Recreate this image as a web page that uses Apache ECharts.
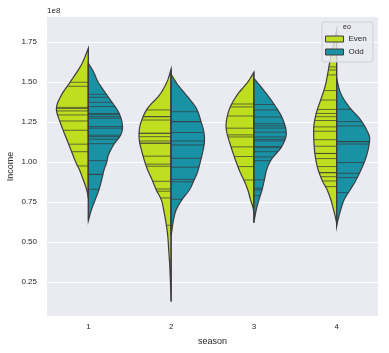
<!DOCTYPE html>
<html>
<head>
<meta charset="utf-8">
<script src="https://cdn.jsdelivr.net/npm/echarts@6/dist/echarts.min.js"></script>
<style>
html, body { margin: 0; padding: 0; background: #fff; }
#chart { width: 389px; height: 353px; }
</style>
</head>
<body>
<div id="chart"></div>
<script>
const seasons = ['1', '2', '3', '4'];
const yTicks = [0.25, 0.5, 0.75, 1.0, 1.25, 1.5, 1.75];

// violin outlines: [income in millions, relative density], top to bottom
const evenShape = [
  [[171.3, 0], [160.8, 0.21], [150, 0.54], [142.1, 0.79], [133.8, 0.94], [125, 0.83], [110.8, 0.57], [100, 0.37], [95.2, 0.26], [87.8, 0.13], [82.8, 0.05], [77.8, 0]],
  [[158.3, 0], [150.4, 0.12], [142.1, 0.34], [133.8, 0.69], [125.4, 0.88], [119.1, 0.94], [112.9, 0.93], [106.6, 0.86], [100, 0.77], [95.2, 0.69], [89.1, 0.56], [82.8, 0.44], [76.6, 0.29], [70.3, 0.22], [62, 0.15], [54, 0.1], [45, 0.07], [35, 0.04], [25, 0.02], [13, 0]],
  [[156.3, 0], [150.4, 0.17], [142.1, 0.49], [133.8, 0.71], [125.4, 0.81], [119.1, 0.8], [110.8, 0.69], [102.5, 0.56], [94.1, 0.41], [89.1, 0.3], [82.8, 0.18], [76.6, 0.1], [72.8, 0.04], [69.1, 0]],
  [[182.7, 0], [173, 0.1], [162.9, 0.2], [155.6, 0.26], [147.3, 0.34], [138.9, 0.47], [130.6, 0.6], [122.3, 0.67], [113.9, 0.67], [105.6, 0.64], [97.3, 0.57], [88.9, 0.43], [82.8, 0.28], [76.6, 0.17], [70.3, 0.09], [65, 0.03], [61.9, 0]]
];
const oddShape = [
  [[161.9, 0], [156.6, 0.15], [150, 0.29], [142.1, 0.54], [131.6, 0.88], [123.3, 1.0], [117.1, 0.95], [110.8, 0.74], [104.6, 0.59], [100, 0.54], [95.2, 0.46], [89, 0.39], [82.8, 0.31], [76.6, 0.2], [70.3, 0.09], [63.5, 0]],
  [[155, 0], [148.3, 0.2], [142.1, 0.44], [133.8, 0.74], [125.4, 0.88], [119.1, 0.96], [112.9, 0.98], [106.6, 0.93], [100.4, 0.86], [94.1, 0.78], [89.1, 0.68], [82.8, 0.54], [76.6, 0.32], [70.3, 0.15], [64, 0.07], [57, 0.02], [54, 0]],
  [[152.5, 0], [146.3, 0.24], [137.9, 0.54], [129.6, 0.79], [123.3, 0.91], [119.1, 0.95], [115, 0.93], [108.8, 0.79], [102.5, 0.54], [96.3, 0.39], [89.1, 0.31], [82.8, 0.24], [76.6, 0.15], [70.3, 0.07], [62.2, 0]],
  [[152.5, 0], [143.1, 0.12], [134.8, 0.36], [126.4, 0.71], [118.1, 0.93], [113.9, 0.97], [105.6, 0.9], [97.3, 0.76], [88.9, 0.57], [82.8, 0.4], [76.6, 0.22], [70.3, 0.12], [64, 0.04], [60, 0]]
];

// single observations drawn as inner sticks, income in millions
const evenSticks = [
  [150.0, 147.5, 134.3, 133.6, 132.1, 129.6, 125.8, 120.0, 111.3, 106.6, 97.7],
  [132.7, 128.5, 128.5, 126.4, 118.1, 118.1, 116.0, 113.3, 111.9, 111.9, 103.8, 98.8, 97.5, 88.1, 83.3, 81.9, 77.7, 60.6, 38.3],
  [136.4, 134.6, 128.9, 121.3, 117.1, 115.8, 109.6, 103.6, 97.3, 88.9],
  [159.6, 157.7, 154.6, 144.8, 138.9, 133.0, 130.5, 128.5, 126.1, 122.1, 119.4, 114.1, 110.0, 105.5, 105.5, 102.3, 97.3, 93.5, 93.5, 91.0, 88.3, 84.8]
];
const oddSticks = [
  [142.5, 140.6, 137.5, 134.8, 130.5, 129.8, 128.5, 127.5, 122.3, 121.3, 116.9, 116.0, 114.4, 111.6, 101.0, 92.4, 92.4, 83.1],
  [131.6, 125.4, 125.4, 118.6, 113.3, 110.8, 102.5, 96.9, 89.3, 87.8, 76.9],
  [136.1, 132.7, 128.3, 124.1, 122.8, 121.4, 118.8, 115.8, 114.3, 113.3, 109.9, 109.1, 106.6, 103.3, 101.0, 89.0, 83.8, 82.7, 79.1],
  [133.1, 125.4, 122.7, 112.9, 112.9, 111.4, 99.8, 93.1, 90.4, 81.0]
];

const evenColor = '#BEDE1F';
const oddColor = '#1A92A6';
const edgeColor = '#3d3d3d';
const font = "'Liberation Sans', Arial, sans-serif";

// catmull-rom through the outline points, in pixels
function smoothCurve(pts, cx, side) {
  const out = [];
  const n = pts.length;
  for (let i = 0; i < n - 1; i++) {
    const p0 = pts[Math.max(i - 1, 0)], p1 = pts[i], p2 = pts[i + 1], p3 = pts[Math.min(i + 2, n - 1)];
    for (let s = 0; s < 8; s++) {
      const t = s / 8, t2 = t * t, t3 = t2 * t;
      const f = k => 0.5 * ((2 * p1[k]) + (-p0[k] + p2[k]) * t + (2 * p0[k] - 5 * p1[k] + 4 * p2[k] - p3[k]) * t2 + (-p0[k] + 3 * p1[k] - 3 * p2[k] + p3[k]) * t3);
      let x = f(0);
      if (side < 0) x = Math.min(x, cx); else x = Math.max(x, cx);
      out.push([x, f(1)]);
    }
  }
  out.push(pts[n - 1]);
  return out;
}

function halfAt(curve, y, cx) {
  for (let i = 0; i < curve.length - 1; i++) {
    const a = curve[i], b = curve[i + 1];
    if ((a[1] - y) * (b[1] - y) <= 0 && a[1] !== b[1]) {
      const t = (y - a[1]) / (b[1] - a[1]);
      return a[0] + (b[0] - a[0]) * t;
    }
  }
  return cx;
}

function makeRender(shapes, sticks, side, color) {
  return function (params, api) {
    const i = params.dataIndex;
    const cx = api.coord([i, 1])[0];
    const maxHalf = api.size([1, 0])[0] * 0.411;
    const pts = shapes[i].map(p => [cx + side * p[1] * maxHalf, api.coord([i, p[0] / 100])[1]]);
    const curve = smoothCurve(pts, cx, side);
    const poly = curve.concat([[cx, curve[curve.length - 1][1]], [cx, curve[0][1]]]);
    const children = [{
      type: 'polygon',
      shape: { points: poly },
      style: { fill: color, stroke: edgeColor, lineWidth: 1.2 }
    }];
    sticks[i].forEach(v => {
      const y = api.coord([i, v / 100])[1];
      const x = halfAt(curve, y, cx);
      children.push({
        type: 'line',
        shape: { x1: cx, y1: y, x2: x, y2: y },
        style: { stroke: 'rgba(55,55,55,0.7)', lineWidth: 1 }
      });
    });
    children.push({
      type: 'line',
      shape: { x1: cx, y1: curve[0][1], x2: cx, y2: curve[curve.length - 1][1] },
      style: { stroke: edgeColor, lineWidth: 1.2 }
    });
    return { type: 'group', children: children };
  };
}

const chart = echarts.init(document.getElementById('chart'));
chart.setOption({
  animation: false,
  grid: { left: 47, right: 11, top: 17, bottom: 37, show: true, backgroundColor: '#EAEAF2', borderWidth: 0, outerBoundsMode: 'none' },
  xAxis: {
    type: 'category',
    data: seasons,
    name: 'season',
    nameLocation: 'middle',
    nameGap: 21,
    nameTextStyle: { color: '#262626', fontSize: 9, fontFamily: font },
    axisLine: { show: false },
    axisTick: { show: false },
    axisLabel: { color: '#262626', fontSize: 8, fontFamily: font, margin: 7 },
    splitLine: { show: false }
  },
  yAxis: {
    type: 'value',
    min: 0.039,
    max: 1.908,
    name: 'Income',
    nameLocation: 'middle',
    nameGap: 32,
    nameMoveOverlap: false,
    nameTextStyle: { color: '#262626', fontSize: 9, fontFamily: font },
    axisLine: { show: false },
    axisTick: { show: false, customValues: yTicks },
    axisLabel: { color: '#262626', fontSize: 8, fontFamily: font, margin: 10, customValues: yTicks, formatter: v => v.toFixed(2) },
    splitLine: { lineStyle: { color: '#ffffff', width: 1 } }
  },
  legend: {
    orient: 'vertical',
    left: 325,
    top: 35,
    z: 110,
    padding: 0,
    itemWidth: 18,
    itemHeight: 6,
    itemGap: 5,
    icon: 'rect',
    itemStyle: { borderColor: edgeColor, borderWidth: 1 },
    textStyle: { color: '#262626', fontSize: 8, fontFamily: font, lineHeight: 8 },
    data: ['Even', 'Odd']
  },
  graphic: [
    { type: 'text', left: 47, top: 7, style: { text: '1e8', fill: '#262626', font: '8px ' + font } },
    { type: 'rect', z: 100, shape: { x: 322, y: 22, width: 51, height: 40, r: 2 }, style: { fill: 'rgba(234,234,242,0.8)', stroke: '#cfcfd6', lineWidth: 1 } },
    { type: 'text', z: 101, x: 347, y: 27.5, style: { text: 'eo', fill: '#262626', font: '7px ' + font, align: 'center', verticalAlign: 'middle' } }
  ],
  series: [
    { name: 'Even', type: 'custom', itemStyle: { color: evenColor }, data: [[0], [1], [2], [3]], encode: { x: 0 }, renderItem: makeRender(evenShape, evenSticks, -1, evenColor) },
    { name: 'Odd', type: 'custom', itemStyle: { color: oddColor }, data: [[0], [1], [2], [3]], encode: { x: 0 }, renderItem: makeRender(oddShape, oddSticks, 1, oddColor) }
  ]
});
</script>
</body>
</html>
